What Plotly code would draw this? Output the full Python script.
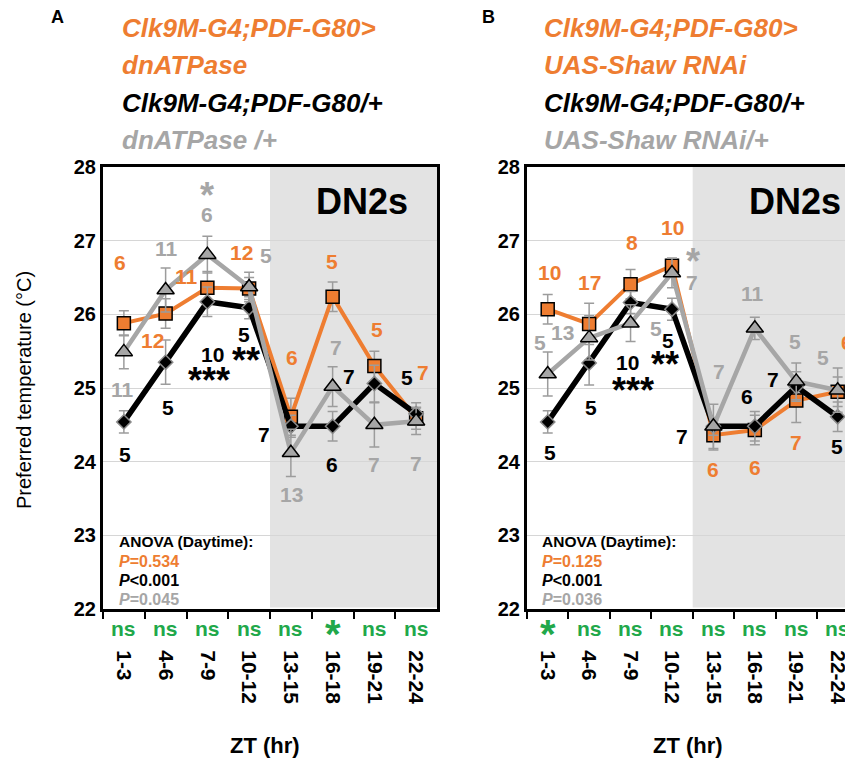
import plotly.graph_objects as go

# page has an 8px body margin, so the figure is drawn 8px smaller and all
# reference pixel positions are shifted by OFF.
OFF = 8
W, H = 853 - OFF, 764 - OFF
FONT = "Liberation Sans, Arial, Helvetica, sans-serif"
ORANGE = "#EE7D31"
GRAY = "#A6A6A6"
BLACK = "#000000"
GREEN = "#21A84A"
ERRC = "#9C9C9C"

# ---------------- data ----------------
zt_labels = ["1-3", "4-6", "7-9", "10-12", "13-15", "16-18", "19-21", "22-24"]

# Panel A (dnATPase)
a_exp = [25.88, 26.01, 26.36, 26.35, 24.61, 26.24, 25.30, 24.59]
a_exp_err = [0.17, 0.20, 0.22, 0.15, 0.25, 0.20, 0.20, 0.15]
a_gal = [24.54, 25.35, 26.17, 26.09, 24.48, 24.48, 25.06, 24.65]
a_gal_err = [0.15, 0.30, 0.20, 0.15, 0.15, 0.20, 0.25, 0.15]
a_uas = [25.49, 26.33, 26.81, 26.37, 24.12, 25.02, 24.50, 24.55]
a_uas_err = [0.23, 0.30, 0.25, 0.20, 0.32, 0.27, 0.30, 0.18]
a_exp_n = ["6", "12", "11", "12", "6", "5", "5", "7"]
a_gal_n = ["5", "5", "10", "5", "7", "6", "7", "5"]
a_uas_n = ["11", "11", "6", "5", "13", "7", "7", "7"]
a_ns = ["ns", "ns", "ns", "ns", "ns", "*", "ns", "ns"]
a_anova = ["P=0.534", "P<0.001", "P=0.045"]

# Panel B (Shaw RNAi)
b_exp = [26.07, 25.87, 26.41, 26.66, 24.36, 24.43, 24.83, 24.95]
b_exp_err = [0.20, 0.28, 0.20, 0.10, 0.20, 0.20, 0.30, 0.20]
b_gal = [24.54, 25.34, 26.16, 26.07, 24.48, 24.48, 25.02, 24.61]
b_gal_err = [0.15, 0.30, 0.15, 0.15, 0.12, 0.20, 0.20, 0.20]
b_uas = [25.19, 25.68, 25.88, 26.56, 24.48, 25.81, 25.09, 24.97]
b_uas_err = [0.30, 0.30, 0.25, 0.20, 0.30, 0.15, 0.25, 0.30]
b_exp_n = ["10", "17", "8", "10", "6", "6", "7", "6"]
b_gal_n = ["5", "5", "10", "5", "7", "6", "7", "5"]
b_uas_n = ["5", "13", "5", "7", "7", "11", "5", "5"]
b_ns = ["*", "ns", "ns", "ns", "ns", "ns", "ns", "ns"]
b_anova = ["P=0.125", "P<0.001", "P=0.036"]

fig = go.Figure()

xdomA = [(103 - OFF) / W, (437 - OFF) / W]
xdomB = [(527 - OFF) / W, 1.0]
ydom = [1 - (609 - OFF) / H, 1 - (167 - OFF) / H]


def add_panel(xa, ya, exp, exp_err, gal, gal_err, uas, uas_err):
    fig.add_trace(go.Scatter(
        x=zt_labels, y=exp, mode="lines+markers", xaxis=xa, yaxis=ya,
        line=dict(color=ORANGE, width=4),
        marker=dict(symbol="square", size=13, color=ORANGE, line=dict(color=BLACK, width=1.5)),
        error_y=dict(type="data", array=exp_err, color=ERRC, thickness=1.5, width=5),
        showlegend=False, cliponaxis=False))
    fig.add_trace(go.Scatter(
        x=zt_labels, y=gal, mode="lines+markers", xaxis=xa, yaxis=ya,
        line=dict(color=BLACK, width=5.5),
        marker=dict(symbol="diamond", size=11, color=BLACK, line=dict(color="#8A8A8A", width=1.5)),
        error_y=dict(type="data", array=gal_err, color=ERRC, thickness=1.5, width=5),
        showlegend=False, cliponaxis=False))
    fig.add_trace(go.Scatter(
        x=zt_labels, y=uas, mode="lines+markers", xaxis=xa, yaxis=ya,
        line=dict(color=GRAY, width=4.5),
        marker=dict(symbol="triangle-up", size=15, color=GRAY, line=dict(color=BLACK, width=1.5)),
        error_y=dict(type="data", array=uas_err, color=ERRC, thickness=1.5, width=5),
        showlegend=False, cliponaxis=False))


add_panel("x", "y", a_exp, a_exp_err, a_gal, a_gal_err, a_uas, a_uas_err)
add_panel("x2", "y2", b_exp, b_exp_err, b_gal, b_gal_err, b_uas, b_uas_err)

xcommon = dict(type="category", categoryarray=zt_labels, tickson="boundaries",
               ticks="outside", ticklen=7, tickwidth=2, tickcolor=BLACK,
               showline=True, linewidth=3, linecolor=BLACK, mirror=True,
               showgrid=False, zeroline=False, tickangle=90, automargin=False,
               tickfont=dict(family=FONT, size=21, color=BLACK, weight="bold"),
               ticklabelstandoff=34, fixedrange=True)
ycommon = dict(range=[22, 28], dtick=1, showgrid=True, gridcolor="#D6D6D6", gridwidth=1,
               zeroline=False, showline=True, linewidth=3, linecolor=BLACK, automargin=False,
               ticks="", tickfont=dict(family=FONT, size=20, color=BLACK, weight="bold"),
               fixedrange=True)

fig.update_layout(
    width=W, height=H, margin=dict(l=0, r=0, t=0, b=0, pad=0, autoexpand=False),
    paper_bgcolor="white", plot_bgcolor="white",
    xaxis=dict(domain=xdomA, range=[-0.5, 7.5], anchor="y", **xcommon),
    yaxis=dict(domain=ydom, anchor="x", mirror=True, **ycommon),
    xaxis2=dict(domain=xdomB, range=[-0.5, 7.37], anchor="y2", **xcommon),
    yaxis2=dict(domain=ydom, anchor="x2", mirror=False, **ycommon),
)

# night shading
for xr, yr, x1 in [("x", "y", 7.5), ("x2", "y2", 8.0)]:
    fig.add_shape(type="rect", xref=xr, yref=yr, x0=3.5, x1=x1, y0=22.02, y1=28,
                  fillcolor="#E3E3E3", line=dict(width=0), layer="below")

ann = []


def txt(text, x, y, color=BLACK, size=21, xref="paper", yref="paper", xshift=0, yshift=0,
        xanchor="center", yanchor="middle", weight="bold", textangle=0):
    ann.append(dict(text=text, x=x, y=y, xref=xref, yref=yref, xshift=xshift, yshift=yshift,
                    xanchor=xanchor, yanchor=yanchor, showarrow=False, textangle=textangle,
                    font=dict(family=FONT, size=size, color=color, weight=weight)))


def P(x, y):
    return (x - OFF) / W, 1 - (y - OFF) / H


# n labels: (values, n-list, color, offsets [dx, dy] in px, down positive)
a_exp_off = [(-4, -61), (-13, 27), (-21, -11), (-8, -36), (1, -59), (-1, -35), (3, -36), (7, -46)]
a_gal_off = [(1, 33), (2, 45), (5, 53), (-5, 27), (-27, 8), (-1, 38), (-25, -7), (-9, -36)]
a_uas_off = [(-1, 38), (1, -42), (0, -40), (17, -32), (1, 42), (3, -39), (0, 40), (0, 42)]
b_exp_off = [(2, -37), (0, -41), (1, -42), (1, -38), (0, 34), (0, 38), (0, 42), (9, -49)]
b_gal_off = [(2, 31), (2, 45), (-3, 60), (-4, 31), (-31, 10), (-8, -30), (-23, -7), (-1, 30)]
b_uas_off = [(-8, -32), (-27, -5), (25, 5), (20, 9), (6, -55), (-2, -35), (-1, -40), (-15, -33)]

for xr, yr, sets in [
    ("x", "y", [(a_exp, a_exp_n, ORANGE, a_exp_off), (a_gal, a_gal_n, BLACK, a_gal_off),
                (a_uas, a_uas_n, GRAY, a_uas_off)]),
    ("x2", "y2", [(b_exp, b_exp_n, ORANGE, b_exp_off), (b_gal, b_gal_n, BLACK, b_gal_off),
                  (b_uas, b_uas_n, GRAY, b_uas_off)])]:
    for vals, ns, col, offs in sets:
        for i, (v, n, (dx, dy)) in enumerate(zip(vals, ns, offs)):
            txt(n, i, v, color=col, size=21, xref=xr, yref=yr, xshift=dx, yshift=-dy)

# significance stars (t-test marks)
STAR = 36
SH = 4
txt("***", 2, a_gal[2], BLACK, STAR, "x", "y", xshift=2, yshift=-75 - SH)
txt("**", 3, a_gal[3], BLACK, STAR, "x", "y", xshift=-3, yshift=-49 - SH)
txt("*", 2, a_uas[2], GRAY, STAR, "x", "y", xshift=0, yshift=63 - SH)
txt("***", 2, b_gal[2], BLACK, STAR, "x2", "y2", xshift=2, yshift=-84 - SH)
txt("**", 3, b_gal[3], BLACK, STAR, "x2", "y2", xshift=-7, yshift=-51 - SH)
txt("*", 3, b_uas[3], GRAY, STAR, "x2", "y2", xshift=21, yshift=16 - SH)

# ns row
for xr, lab in [("x", a_ns), ("x2", b_ns)]:
    for i, s in enumerate(lab):
        if s == "*":
            txt("*", i, -0.043, GREEN, 40, xr, xr.replace("x", "y") + " domain", yshift=-6)
        else:
            txt(s, i, -0.043, GREEN, 21, xr, xr.replace("x", "y") + " domain")

# DN2s
txt("DN2s", *P(362, 201), BLACK, 36)
txt("DN2s", *P(795, 201), BLACK, 36)

# ZT axis titles
txt("ZT (hr)", *P(265, 745), BLACK, 22)
txt("ZT (hr)", *P(688, 745), BLACK, 22)

# y title
txt("Preferred temperature (°C)", *P(24, 390), BLACK, 20, weight="normal", textangle=-90)

# panel letters
txt("A", *P(57, 17), BLACK, 18)
txt("B", *P(488, 17), BLACK, 18)

# genotype headers
hdrA = [("Clk9M-G4;PDF-G80>", ORANGE), ("dnATPase", ORANGE), ("Clk9M-G4;PDF-G80/+", BLACK),
        ("dnATPase /+", GRAY)]
hdrB = [("Clk9M-G4;PDF-G80>", ORANGE), ("UAS-Shaw RNAi", ORANGE), ("Clk9M-G4;PDF-G80/+", BLACK),
        ("UAS-Shaw RNAi/+", GRAY)]
for x0, hdr in [(120, hdrA), (542, hdrB)]:
    for k, (s, c) in enumerate(hdr):
        txt("<i>" + s.replace(">", "&gt;") + "</i>", *P(x0, 28 + k * 37.3), c, 26, xanchor="left")

# ANOVA blocks
for x0, vals in [(117, a_anova), (540, b_anova)]:
    txt("ANOVA (Daytime):", *P(x0, 541), BLACK, 15.5, xanchor="left")
    for k, (v, c) in enumerate(zip(vals, [ORANGE, BLACK, GRAY])):
        txt("<i>P</i>" + v[1:].replace("<", "&lt;"), *P(x0, 561 + k * 19), c, 16, xanchor="left")

fig.update_layout(annotations=ann)
fig.write_html("out.html")
